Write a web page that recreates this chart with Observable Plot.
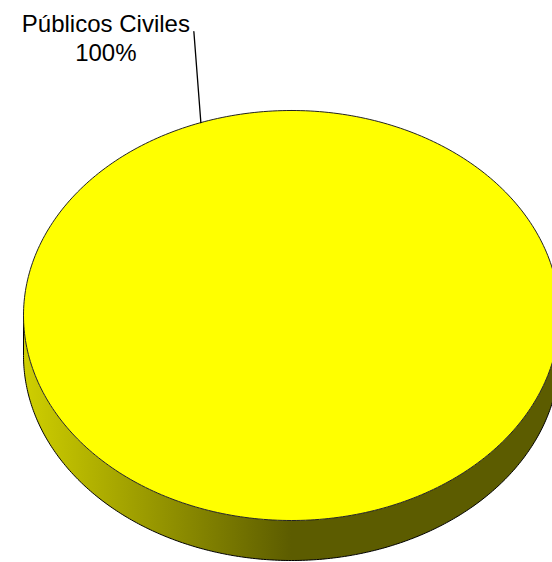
<!DOCTYPE html>
<html><head><meta charset="utf-8">
<script src="https://cdn.jsdelivr.net/npm/d3@7"></script>
<script src="https://cdn.jsdelivr.net/npm/@observablehq/plot@0.6"></script>
<style>body{margin:0;background:#fff;overflow:hidden}</style>
</head><body><div id="chart"></div>
<script>
// ---- data ----
const categories = ["Públicos Civiles"];
const values = [100];
const sliceColors = ["#ffff00"];

// ---- layout ----
const W = 552, H = 562;
const cx = 291, cy = 315, rx = 268, ry = 205, depth = 40;
const labelAngle = -0.345;          // where the leader meets the rim (clockwise from 12 o'clock)
const leaderOffset = [-7, -91];     // leader end relative to rim point
const labelOffset = [-88, -20];     // label top-centre relative to leader end
const fontSize = 24;

const total = d3.sum(values);
const arcs = d3.pie().sort(null)(values);
const pct = d3.format(".0%");

const px = a => cx + rx * Math.sin(a);
const py = a => cy - ry * Math.cos(a);

// top faces
const topPts = [];
const N = 360;
arcs.forEach((s, i) => {
  const full = s.endAngle - s.startAngle >= 2 * Math.PI - 1e-6;
  if (!full) topPts.push({id: i, x: cx, y: cy});
  for (let k = 0; k <= N; k++) {
    const a = s.startAngle + (s.endAngle - s.startAngle) * k / N;
    topPts.push({id: i, x: px(a), y: py(a), fill: sliceColors[i]});
  }
  topPts.forEach(p => { if (p.id === i) p.fill = sliceColors[i]; });
});

// side walls (front visible half: angles PI/2 .. 3PI/2), shaded with a gradient
const sidePts = [];
const sideEdge = [];
const M = 300;
arcs.forEach((s, i) => {
  const lo = Math.max(s.startAngle, Math.PI / 2), hi = Math.min(s.endAngle, 3 * Math.PI / 2);
  if (hi <= lo) return;
  for (let k = 0; k <= M; k++) {
    const a = lo + (hi - lo) * k / M;
    sidePts.push({id: i, x: px(a), y: py(a), g: `url(#sideGrad${i})`});
  }
  for (let k = M; k >= 0; k--) {
    const a = lo + (hi - lo) * k / M;
    sidePts.push({id: i, x: px(a), y: py(a) + depth, g: `url(#sideGrad${i})`});
  }
  sideEdge.push({x: px(lo), y: py(lo)});
  for (let k = 0; k <= M; k++) {
    const a = lo + (hi - lo) * k / M;
    sideEdge.push({x: px(a), y: py(a) + depth});
  }
  sideEdge.push({x: px(hi), y: py(hi)});
});

function gradients() {
  const defs = d3.create("svg:defs");
  sliceColors.forEach((base, i) => {
    const c = d3.rgb(base);
    const tone = t => d3.rgb(c.r * t, c.g * t, c.b * t).formatHex();
    const lg = defs.append("linearGradient").attr("id", `sideGrad${i}`)
      .attr("gradientUnits", "userSpaceOnUse")
      .attr("x1", cx - rx).attr("x2", cx + rx).attr("y1", 0).attr("y2", 0);
    [[0, 0.81], [0.5, 0.36], [1, 0.36]].forEach(([o, t]) =>
      lg.append("stop").attr("offset", o).attr("stop-color", tone(t)));
  });
  return defs.node();
}

// label + leader
const rim = {x: px(labelAngle), y: py(labelAngle)};
const lend = {x: rim.x + leaderOffset[0], y: rim.y + leaderOffset[1]};
const leader = [rim, lend];
const labels = categories.map((c, i) => ({
  text: c + "\n" + pct(values[i] / total),
  x: lend.x + labelOffset[0], y: lend.y + labelOffset[1]
}));

const chart = Plot.plot({
  width: W, height: H,
  margin: 0,
  x: {domain: [0, W], range: [0, W], axis: null},
  y: {domain: [0, H], range: [0, H], axis: null},
  color: {type: "identity"},
  style: {background: "#fff", fontFamily: "'Liberation Sans', Arial, sans-serif"},
  marks: [
    gradients,
    Plot.line(sidePts, {x: "x", y: "y", z: "id", fill: "g", stroke: "none", curve: "linear-closed", clip: true}),
    Plot.line(sideEdge, {x: "x", y: "y", stroke: "#000", strokeWidth: 1, clip: true}),
    Plot.line(topPts, {x: "x", y: "y", z: "id", fill: "fill", stroke: "#222", strokeWidth: 1, curve: "linear-closed", clip: true}),
    Plot.line(leader, {x: "x", y: "y", stroke: "#000", strokeWidth: 1.3}),
    Plot.text(labels, {x: "x", y: "y", text: "text", textAnchor: "middle", lineAnchor: "top", lineHeight: 1.2, fontSize, fill: "#000"})
  ]
});
document.getElementById("chart").append(chart);
</script>
</body></html>
